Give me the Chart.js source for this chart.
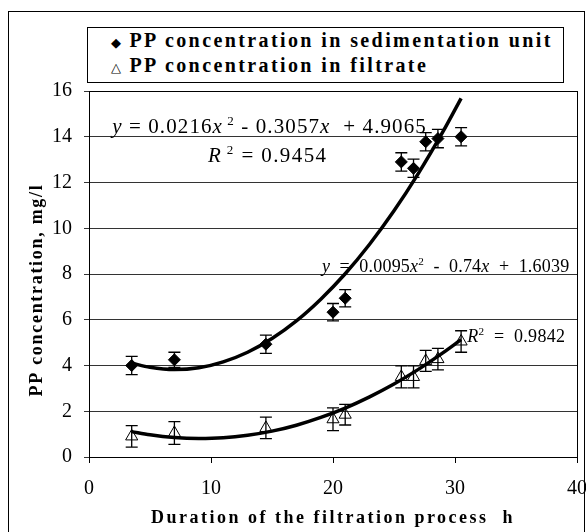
<!DOCTYPE html>
<html>
<head>
<meta charset="utf-8">
<script src="https://cdn.jsdelivr.net/npm/chart.js@4.4.0/dist/chart.umd.min.js"></script>
<style>
  html, body { margin: 0; padding: 0; background: #fff; }
  #wrap { position: relative; width: 586px; height: 532px; overflow: hidden; }
  #frame { position: absolute; left: 8px; top: 11px; width: 577px; height: 525px; border: 1px solid #000; box-sizing: border-box; }
  #legend {
    position: absolute; left: 87px; top: 27px; width: 477px; height: 56px;
    border: 1px solid #000; box-sizing: border-box; background: #fff;
    font-family: "Liberation Serif", serif; font-weight: bold; font-size: 20px;
    letter-spacing: 2.4px; padding: 1px 0 0 23px; line-height: 22px; color: #000;
    white-space: nowrap;
  }
  #legend .sym { display: inline-block; width: 11px; font-size: 13px; font-weight: normal; letter-spacing: 0; }
  canvas { position: absolute; left: 0; top: 0; }
</style>
</head>
<body>
<div id="wrap">
  <div id="frame"></div>
  <canvas id="chart" width="586" height="532"></canvas>
  <div id="legend">
    <div><span class="sym">&#9670;</span> PP concentration in sedimentation unit</div>
    <div><span class="sym">&#9651;</span> PP concentration in filtrate</div>
  </div>
</div>
<script>
const hours = [3.5, 7, 14.5, 20, 21, 25.6, 26.6, 27.6, 28.6, 30.5];
const sedimentation = [4.0, 4.25, 4.93, 6.33, 6.94, 12.9, 12.62, 13.78, 13.92, 14.0];
const sedimentationError = [0.4, 0.33, 0.4, 0.38, 0.38, 0.4, 0.4, 0.4, 0.4, 0.4];
const filtrate = [0.9, 1.05, 1.27, 1.65, 1.85, 3.5, 3.5, 4.2, 4.28, 5.05];
const filtrateError = [0.47, 0.5, 0.47, 0.5, 0.45, 0.48, 0.48, 0.46, 0.47, 0.47];

const trendHours = [3.5, 5, 7, 9, 11, 13, 15, 17, 19, 21, 23, 25, 27, 29, 30.5];
const sedimentationTrend = [4.10, 3.92, 3.82, 3.90, 4.16, 4.58, 5.18, 5.95, 6.90, 8.01, 9.30, 10.76, 12.40, 14.21, 15.68];
const filtrateTrend = [1.11, 0.97, 0.85, 0.81, 0.84, 0.95, 1.13, 1.39, 1.73, 2.14, 2.63, 3.19, 3.83, 4.55, 5.13];

const xTicks = [0, 10, 20, 30, 40];
const yTicks = [0, 2, 4, 6, 8, 10, 12, 14, 16];

const xTitle = 'Duration of the filtration process  h';
const yTitle = 'PP concentration, mg/l';

const FONT = '"Liberation Serif", "Times New Roman", serif';

// equation labels: [text, style] runs, anchored in data coordinates
const notes = [
  { x: 1.9, y: 14.16, size: 21, spacing: 1.1, runs: [['y', 'i'], [' = 0.0216', ''], ['x', 'i'], [' 2', 'sup'], [' - 0.3057', ''], ['x', 'i'], ['  + 4.9065', '']] },
  { x: 9.75, y: 12.9, size: 21, spacing: 1.4, runs: [['R', 'i'], [' 2', 'sup'], [' = 0.9454', '']] },
  { x: 19.1, y: 8.09, size: 18, spacing: 0.2, runs: [['y', 'i'], ['  =  0.0095', ''], ['x', 'i'], ['2', 'sup'], ['  -  0.74', ''], ['x', 'i'], ['  +  1.6039', '']] },
  { x: 31.0, y: 5.03, size: 18, spacing: 0.3, runs: [['R', 'i'], ['2', 'sup'], ['  =  0.9842', '']] },
];

const toPoints = (xs, ys) => xs.map((x, i) => ({ x, y: ys[i] }));

function drawRuns(ctx, runs, x, y, size, spacing) {
  let cx = x;
  ctx.letterSpacing = `${spacing}px`;
  runs.forEach(([text, style]) => {
    const sup = style === 'sup';
    const fs = sup ? size * 0.62 : size;
    ctx.font = `${style === 'i' ? 'italic ' : ''}${fs}px ${FONT}`;
    ctx.fillText(text, cx, sup ? y - size * 0.4 : y);
    cx += ctx.measureText(text).width;
  });
  ctx.letterSpacing = '0px';
}

const errorBars = {
  id: 'errorBars',
  afterDatasetsDraw(chart) {
    const { ctx, scales: { x, y } } = chart;
    const sets = [[sedimentation, sedimentationError], [filtrate, filtrateError]];
    ctx.save();
    ctx.strokeStyle = '#000';
    ctx.lineWidth = 1.3;
    sets.forEach(([values, errors]) => {
      values.forEach((v, i) => {
        const px = x.getPixelForValue(hours[i]);
        const top = y.getPixelForValue(v + errors[i]);
        const bottom = y.getPixelForValue(v - errors[i]);
        ctx.beginPath();
        ctx.moveTo(px, top); ctx.lineTo(px, bottom);
        ctx.moveTo(px - 6, top); ctx.lineTo(px + 6, top);
        ctx.moveTo(px - 6, bottom); ctx.lineTo(px + 6, bottom);
        ctx.stroke();
      });
    });
    ctx.restore();
  },
};

const annotations = {
  id: 'annotations',
  afterDraw(chart) {
    const { ctx, chartArea: a, scales: { x, y } } = chart;
    ctx.save();
    ctx.strokeStyle = '#000';
    ctx.lineWidth = 1;
    ctx.strokeRect(Math.round(a.left) + 0.5, Math.round(a.top) + 0.5, Math.round(a.right - a.left), Math.round(a.bottom - a.top));

    ctx.fillStyle = '#000';
    ctx.textBaseline = 'alphabetic';
    ctx.textAlign = 'left';
    notes.forEach((n) => drawRuns(ctx, n.runs, x.getPixelForValue(n.x), y.getPixelForValue(n.y), n.size, n.spacing));

    // axis titles, letter-spaced like the original
    ctx.font = `bold 18px ${FONT}`;
    ctx.letterSpacing = '2.5px';
    ctx.textAlign = 'center';
    ctx.fillText(xTitle, (a.left + a.right) / 2, 523);

    ctx.letterSpacing = '1.7px';
    ctx.translate(42, 290);
    ctx.rotate(-Math.PI / 2);
    ctx.fillText(yTitle, 0, 0);
    ctx.restore();
  },
};

new Chart(document.getElementById('chart'), {
  type: 'scatter',
  data: {
    datasets: [
      {
        type: 'line',
        data: toPoints(trendHours, sedimentationTrend),
        borderColor: '#000',
        borderWidth: 3.5,
        pointRadius: 0,
        cubicInterpolationMode: 'monotone',
        order: 3,
      },
      {
        type: 'line',
        data: toPoints(trendHours, filtrateTrend),
        borderColor: '#000',
        borderWidth: 3.5,
        pointRadius: 0,
        cubicInterpolationMode: 'monotone',
        order: 3,
      },
      {
        data: toPoints(hours, sedimentation),
        pointStyle: 'rectRot',
        pointRadius: 6,
        backgroundColor: '#000',
        borderColor: '#000',
        borderWidth: 1,
        order: 1,
      },
      {
        data: toPoints(hours, filtrate),
        pointStyle: 'triangle',
        pointRadius: 7,
        backgroundColor: 'rgba(255,255,255,0)',
        borderColor: '#000',
        borderWidth: 1,
        order: 1,
      },
    ],
  },
  options: {
    responsive: false,
    animation: false,
    layout: { padding: { top: 91, right: 9, left: 0, bottom: 0 } },
    plugins: { legend: { display: false }, tooltip: { enabled: false } },
    scales: {
      x: {
        type: 'linear',
        min: 0,
        max: 40,
        afterBuildTicks: (s) => { s.ticks = xTicks.map((value) => ({ value })); },
        afterFit: (s) => { s.height = 75; s.paddingLeft = 0; s.paddingRight = 0; },
        grid: { drawOnChartArea: false, tickLength: 6, color: '#000' },
        border: { color: '#000' },
        ticks: { color: '#000', font: { family: FONT, size: 20 }, padding: 14, maxRotation: 0, autoSkip: false },
      },
      y: {
        min: 0,
        max: 16,
        afterBuildTicks: (s) => { s.ticks = yTicks.map((value) => ({ value })); },
        afterFit: (s) => { s.width = 89; s.paddingTop = 0; s.paddingBottom = 0; },
        grid: { color: '#333', tickLength: 5 },
        border: { color: '#000' },
        ticks: { color: '#000', font: { family: FONT, size: 20 }, padding: 12 },
      },
    },
  },
  plugins: [errorBars, annotations],
});
</script>
</body>
</html>
